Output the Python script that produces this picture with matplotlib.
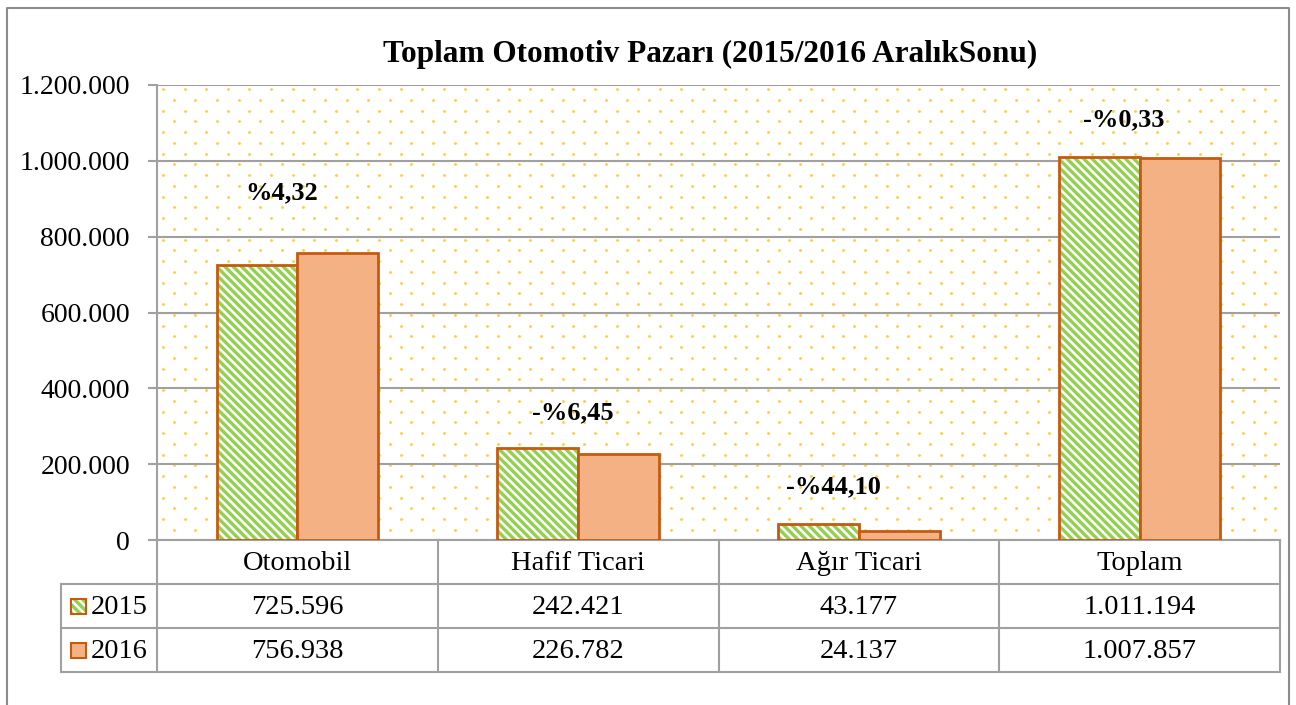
import matplotlib
matplotlib.use("Agg")
import matplotlib.pyplot as plt
import numpy as np
from matplotlib.lines import Line2D
from matplotlib.patches import Rectangle

# ---------------- data ----------------
categories = ["Otomobil", "Hafif Ticari", "Ağır Ticari", "Toplam"]
series_names = ["2015", "2016"]
values_2015 = [725596, 242421, 43177, 1011194]
values_2016 = [756938, 226782, 24137, 1007857]
change_labels = ["%4,32", "-%6,45", "-%44,10", "-%0,33"]
label_y = [915000, 335000, 140000, 1108000]
label_dx = [-0.055, -0.02, -0.09, -0.057]
yticks = [0, 200000, 400000, 600000, 800000, 1000000, 1200000]
title = "Toplam Otomotiv Pazarı (2015/2016 AralıkSonu)"

# ---------------- style ----------------
W, H = 1296, 705
plt.rcParams['font.family'] = ['Liberation Serif', 'DejaVu Serif']
plt.rcParams['hatch.linewidth'] = 2.4
GREEN = '#92D050'
EDGE = '#C55A11'
ORANGE = '#F4B183'
GRID = '#A0A0A0'
DOT = '#FFC000'
FS = 20.5
FS_TICK = 20

def fx(x):
    return x / W

def fy(y):
    return 1 - y / H

fig = plt.figure(figsize=(W / 100, H / 100), dpi=100)
ax_l, ax_r, ax_t, ax_b = 157, 1280, 85, 540
ax = fig.add_axes([fx(ax_l), fy(ax_b), fx(ax_r) - fx(ax_l), fy(ax_t) - fy(ax_b)])

n = len(categories)
x = np.arange(n)
bw = 0.288
ax.set_xlim(-0.5, n - 0.5)
ax.set_ylim(0, 1200000)

# dotted background pattern (decorative)
aw, ah = ax_r - ax_l, ax_b - ax_t
sx, sy = 21.6, 10.75
pts = []
row = 0
yy = 4.0
while yy < ah:
    off = 6.0 if row % 2 == 0 else 6.0 + sx / 2
    xs = np.arange(off, aw, sx)
    for xv in xs:
        pts.append((xv / aw, 1 - yy / ah))
    yy += sy
    row += 1
pts = np.array(pts)
ax.scatter(pts[:, 0], pts[:, 1], s=4.0, color=DOT, alpha=0.8, transform=ax.transAxes,
           zorder=0, linewidths=0, clip_on=True)

# grid
ax.set_yticks(yticks)
ax.yaxis.grid(True, color=GRID, linewidth=1.5, zorder=1)
ax.set_axisbelow(True)
ax.set_yticklabels([f"{v:,.0f}".replace(",", ".") for v in yticks], fontsize=FS_TICK)
ax.tick_params(axis='y', direction='out', length=6.5, width=1.5, color=GRID, pad=13)
ax.set_xticks([])
for s in ['top', 'right']:
    ax.spines[s].set_visible(False)
ax.spines['left'].set_color(GRID)
ax.spines['left'].set_linewidth(1.5)
ax.spines['bottom'].set_color(GRID)
ax.spines['bottom'].set_linewidth(1.5)

# bars
ax.bar(x - bw / 2, values_2015, bw, color='white', edgecolor=GREEN, hatch='\\\\\\\\',
       linewidth=0, zorder=3)
ax.bar(x - bw / 2, values_2015, bw, fill=False, edgecolor=EDGE, linewidth=2, zorder=4)
ax.bar(x + bw / 2, values_2016, bw, color=ORANGE, edgecolor=EDGE, linewidth=2, zorder=4)

# change labels
for i, lab in enumerate(change_labels):
    ax.text(x[i] + label_dx[i], label_y[i], lab, ha='center', va='center',
            fontsize=19, fontweight='bold', zorder=5)

# title
fig.text(fx(710), fy(54), title, ha='center', va='center', fontsize=22.5, fontweight='bold')

# ---------------- data table ----------------
def hline(y, x0, x1):
    fig.add_artist(Line2D([fx(x0), fx(x1)], [fy(y), fy(y)], color=GRID, lw=1.5))

def vline(xv, y0, y1):
    fig.add_artist(Line2D([fx(xv), fx(xv)], [fy(y0), fy(y1)], color=GRID, lw=1.5))

r0, r1, r2, r3 = 540, 584, 628, 672
leg_l = 61
colw = (ax_r - ax_l) / n
hline(r1, leg_l, ax_r)
hline(r2, leg_l, ax_r)
hline(r3, leg_l, ax_r)
vline(leg_l, r1, r3)
for i in range(n + 1):
    vline(ax_l + i * colw, r0, r3)

rows = [values_2015, values_2016]
for i, c in enumerate(categories):
    cx = ax_l + (i + 0.5) * colw
    fig.text(fx(cx), fy((r0 + r1) / 2 + 1), c, ha='center', va='center', fontsize=FS)
    for j, vals in enumerate(rows):
        yc = (r1 + r2) / 2 if j == 0 else (r2 + r3) / 2
        fig.text(fx(cx), fy(yc + 1), f"{vals[i]:,.0f}".replace(",", "."),
                 ha='center', va='center', fontsize=FS)

# legend keys in table
for j, name in enumerate(series_names):
    yc = (r1 + r2) / 2 if j == 0 else (r2 + r3) / 2
    kx, ks = 71, 15
    if j == 0:
        fig.add_artist(Rectangle((fx(kx), fy(yc + ks / 2)), fx(ks), ks / H,
                                 facecolor='white', edgecolor=GREEN, hatch='\\\\\\\\', lw=0))
        fig.add_artist(Rectangle((fx(kx), fy(yc + ks / 2)), fx(ks), ks / H,
                                 fill=False, edgecolor=EDGE, lw=1.5))
    else:
        fig.add_artist(Rectangle((fx(kx), fy(yc + ks / 2)), fx(ks), ks / H,
                                 facecolor=ORANGE, edgecolor=EDGE, lw=1.5))
    fig.text(fx(91), fy(yc + 1), name, ha='left', va='center', fontsize=FS)

# outer border
fig.add_artist(Line2D([fx(7), fx(7), fx(1289), fx(1289)], [0, fy(8), fy(8), 0],
                      color='#8C8C8C', lw=1.5))

fig.savefig("out.png", dpi=100)
